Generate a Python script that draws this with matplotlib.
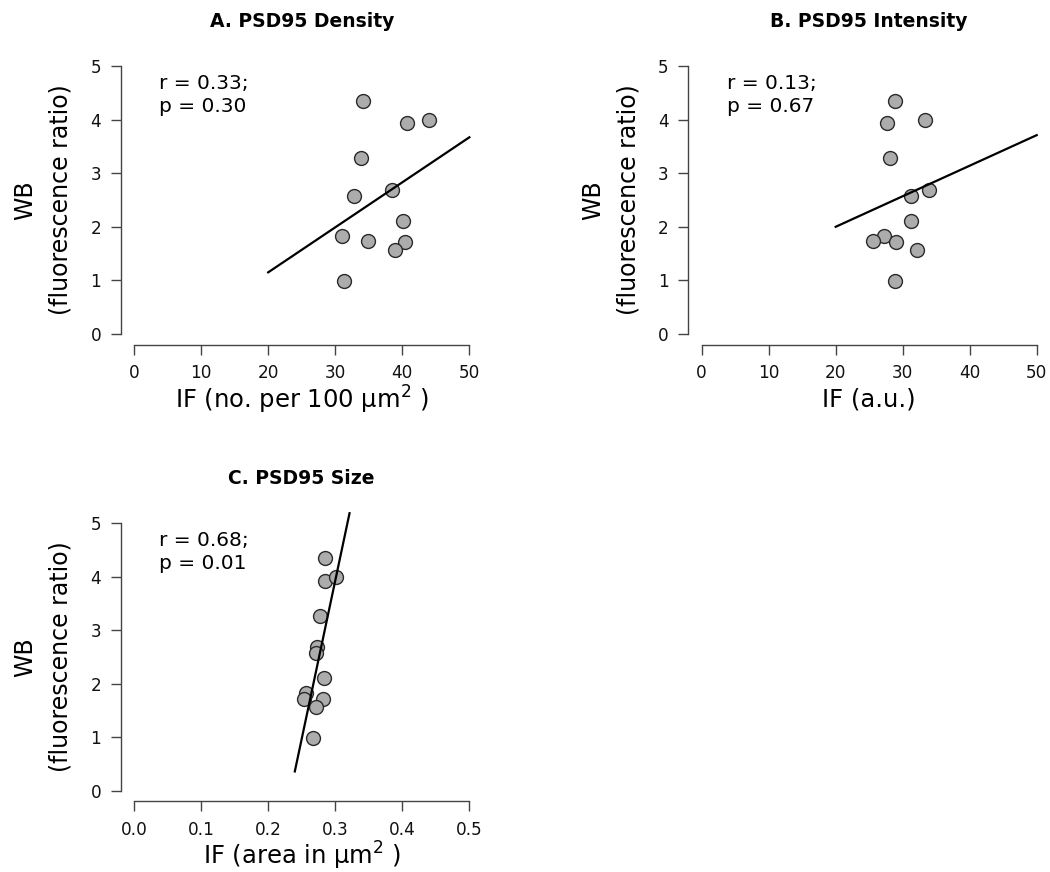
import matplotlib.pyplot as plt

plt.rcParams['font.family'] = 'DejaVu Sans'
plt.rcParams['mathtext.default'] = 'regular'

# WB values (shared by the three panels)
wb = [4.34, 3.94, 4.00, 3.28, 2.69, 2.58, 2.10, 1.82, 1.73, 1.72, 1.57, 0.99]

# IF values per panel
density = [34.15, 40.76, 43.99, 33.85, 38.5, 32.8, 40.1, 30.97, 34.85, 40.35, 38.97, 31.3]
intensity = [28.9, 27.7, 33.4, 28.06, 33.97, 31.2, 31.2, 27.25, 25.5, 29.0, 32.1, 28.9]
size = [0.284, 0.285, 0.301, 0.278, 0.273, 0.272, 0.2825, 0.2557, 0.2537, 0.2819, 0.271, 0.267]
wb_size = [4.35, 3.93, 4.00, 3.27, 2.69, 2.58, 2.10, 1.82, 1.71, 1.72, 1.57, 0.99]

# regression lines as drawn (end points)
fit_a_x = [20, 50]
fit_a_y = [1.15, 3.67]
fit_b_x = [20, 50]
fit_b_y = [2.00, 3.71]
fit_c_x = [0.2397, 0.3213]
fit_c_y = [0.36, 5.19]

titles = ['A. PSD95 Density', 'B. PSD95 Intensity', 'C. PSD95 Size']
stats = ['r = 0.33;\np = 0.30', 'r = 0.13;\np = 0.67', 'r = 0.68;\np = 0.01']
xlabels = ['IF (no. per 100 μm$^{2}$ )', 'IF (a.u.)', 'IF (area in μm$^{2}$ )']

fig = plt.figure(figsize=(10.5, 8.72), dpi=100)
axA = fig.add_axes([0.1149, 0.6047, 0.3449, 0.3319])
axB = fig.add_axes([0.6555, 0.6047, 0.3446, 0.3319])
axC = fig.add_axes([0.1149, 0.0810, 0.3449, 0.3311])

panels = [
    (axA, density, wb, fit_a_x, fit_a_y, 50, [0, 10, 20, 30, 40, 50], ['0', '10', '20', '30', '40', '50']),
    (axB, intensity, wb, fit_b_x, fit_b_y, 50, [0, 10, 20, 30, 40, 50], ['0', '10', '20', '30', '40', '50']),
    (axC, size, wb_size, fit_c_x, fit_c_y, 0.5, [0, 0.1, 0.2, 0.3, 0.4, 0.5], ['0.0', '0.1', '0.2', '0.3', '0.4', '0.5']),
]

for i, (ax, x, y, fx, fy, xmax, xt, xtl) in enumerate(panels):
    ax.scatter(x, y, s=100, color='#acacac', edgecolor='#2a2a2a', linewidth=1.0, zorder=2)
    ax.plot(fx, fy, color='black', lw=1.6, zorder=3, clip_on=False)
    ax.set_xlim(-0.04 * xmax, 1.04 * xmax)
    ax.set_ylim(-0.2, 5.2)
    ax.set_xticks(xt)
    ax.set_xticklabels(xtl)
    ax.set_yticks([0, 1, 2, 3, 4, 5])
    for s in ['top', 'right']:
        ax.spines[s].set_visible(False)
    ax.spines['left'].set_bounds(0, 5)
    ax.spines['bottom'].set_bounds(0, xmax)
    for s in ['left', 'bottom']:
        ax.spines[s].set_color('#444444')
        ax.spines[s].set_linewidth(1.0)
    ax.tick_params(length=7, width=1.0, color='#444444', labelsize=12.2, pad=7, labelcolor='#111111')
    ax.text(0.5, 1.118, titles[i], transform=ax.transAxes, ha='center', va='center',
            fontsize=13.5, fontweight='bold')
    ax.text(0.106, 0.935, stats[i], transform=ax.transAxes, ha='left', va='top',
            fontsize=14.5, linespacing=1.25)
    ax.text(0.5, -0.19, xlabels[i], transform=ax.transAxes, ha='center', va='center',
            fontsize=17.5)
    ax.text(-0.264, 0.5, 'WB', transform=ax.transAxes, ha='center', va='center',
            rotation=90, fontsize=17)
    ax.text(-0.165, 0.5, '(fluorescence ratio)', transform=ax.transAxes, ha='center', va='center',
            rotation=90, fontsize=17)

fig.savefig('out.png', dpi=100)
